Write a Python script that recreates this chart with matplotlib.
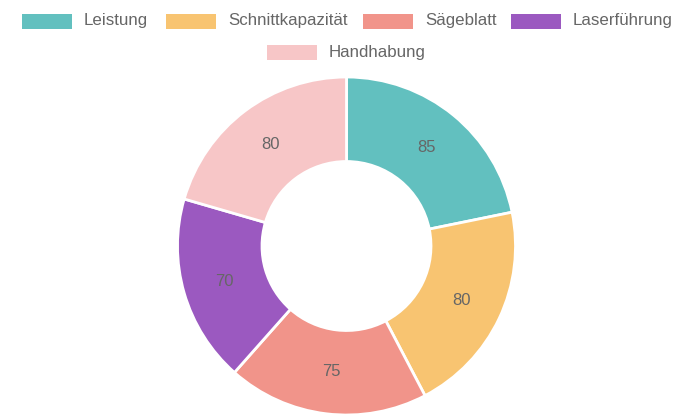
import matplotlib.pyplot as plt
from matplotlib.patches import Rectangle

labels = ['Leistung', 'Schnittkapazität', 'Sägeblatt', 'Laserführung', 'Handhabung']
values = [85, 80, 75, 70, 80]
colors = ['#62C0BF', '#F8C471', '#F1948A', '#9B59C0', '#F7C6C7']

plt.rcParams['font.family'] = ['Liberation Sans', 'DejaVu Sans']

W, H = 695, 417
fig = plt.figure(figsize=(W / 100, H / 100), dpi=100)

# donut axes: center (346.5, 246) px, radius 169 px
cx, cy, r = 346.5, 246, 169
ax = fig.add_axes([(cx - r) / W, (H - cy - r) / H, 2 * r / W, 2 * r / H])
wedges, texts = ax.pie(values, colors=colors, startangle=90, counterclock=False,
                       radius=1, labels=[str(v) for v in values], labeldistance=0.75,
                       wedgeprops=dict(width=0.5, edgecolor='white', linewidth=2))
for t in texts:
    t.set_ha('center')
    t.set_va('center')
    t.set_color('#666666')
    t.set_fontsize(12)
ax.set_xlim(-1.0, 1.0)
ax.set_ylim(-1.0, 1.0)
ax.set_aspect('equal')
ax.axis('off')

# legend, drawn by hand in pixel coordinates (two centred rows)
box_x = [22, 166, 363, 511, 267]
row_y = [21, 21, 21, 21, 52]
for lab, col, bx, by in zip(labels, colors, box_x, row_y):
    fig.patches.append(Rectangle((bx / W, (H - by - 7.5) / H), 50 / W, 15 / H,
                                 transform=fig.transFigure, facecolor=col,
                                 edgecolor='none'))
    fig.text((bx + 62) / W, (H - by) / H, lab, ha='left', va='center',
             color='#666666', fontsize=12.2)

plt.savefig('out.png', dpi=100)
